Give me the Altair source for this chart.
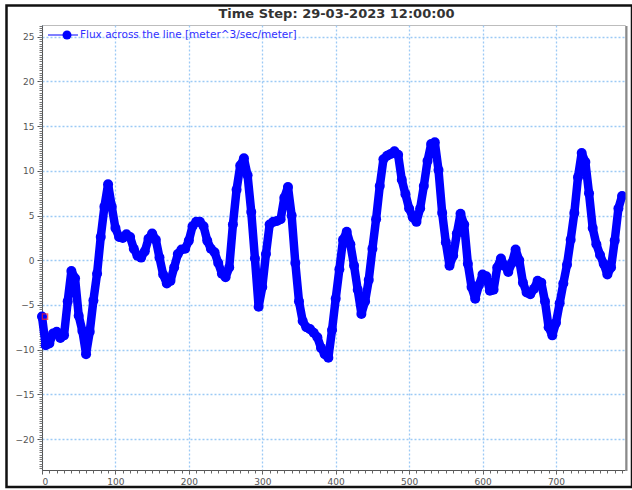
import altair as alt
import pandas as pd

# Flux across the section line, sampled every 5 m of distance along it
distance = list(range(0, 795, 5))
flux = [
    -6.3, -9.5, -9.3, -8.2, -8.0, -8.7, -8.4, -4.6, -1.2, -2.0,
    -6.2, -7.9, -10.5, -8.0, -4.5, -1.5, 2.6, 6.0, 8.5, 6.0,
    3.6, 2.6, 2.5, 2.9, 2.6, 1.3, 0.5, 0.3, 1.0, 2.4,
    3.0, 2.3, 0.3, -1.6, -2.6, -2.3, -0.8, 0.7, 1.2, 1.3,
    2.2, 3.8, 4.3, 4.3, 3.8, 2.2, 1.3, 0.9, -0.3, -1.5,
    -1.9, -0.8, 4.0, 7.9, 10.6, 11.4, 9.5, 5.4, 0.2, -5.2,
    -3.0, 0.7, 4.0, 4.3, 4.4, 4.6, 7.0, 8.2, 5.0, -0.3,
    -4.6, -6.8, -7.5, -7.7, -8.1, -8.6, -9.8, -10.5, -10.9, -7.8,
    -4.3, -1.0, 2.3, 3.2, 1.8, -0.6, -3.3, -6.0, -4.6, -2.2,
    1.3, 4.6, 8.3, 11.3, 11.7, 11.9, 12.2, 11.8, 9.0, 7.4,
    5.8, 4.8, 4.3, 5.8, 8.3, 11.1, 13.0, 13.2, 10.1, 5.3,
    2.0, -0.6, 0.5, 3.0, 5.2, 4.0, -0.4, -3.0, -4.3, -2.8,
    -1.6, -1.8, -3.4, -3.3, -0.8, 0.2, -0.6, -1.3, -0.3, 1.2,
    0.0, -2.5, -3.6, -3.8, -3.2, -2.3, -2.5, -4.6, -7.5, -8.4,
    -7.0, -4.8, -2.6, -0.5, 2.3, 5.3, 9.3, 12.0, 11.0, 7.5,
    3.6, 1.8, 0.6, -0.4, -1.6, -0.8, 2.2, 5.8, 7.2,
]

title_text = "Time Step: 29-03-2023 12:00:00"
legend_label = "Flux across the line [meter^3/sec/meter]"

x_major = [0, 100, 200, 300, 400, 500, 600, 700]
x_minor = list(range(0, 795, 10))
y_major = [-20, -15, -10, -5, 0, 5, 10, 15, 20, 25]
y_minor = [v / 4 for v in range(-93, 106)]

BLUE = "#0000ff"
GRID = "#9ccaf5"
W, H = 583, 445

df = pd.DataFrame({"distance": distance, "flux": flux})

x_scale = alt.Scale(domain=[0, 794], nice=False, zero=False)
y_scale = alt.Scale(domain=[-23.46, 26.32], nice=False, zero=False)

axis_common = dict(
    title=None,
    labelFont="DejaVu Sans",
    labelFontSize=9,
    labelColor="#555555",
    domainColor="#555555",
    tickColor="#555555",
    grid=True,
    gridColor=GRID,
    gridDash=[2, 2],
    gridWidth=1.3,
)

x_axis = alt.Axis(orient="bottom", values=x_major, tickSize=4, labelPadding=3, **axis_common)
y_axis = alt.Axis(orient="left", values=y_major, tickSize=5, labelPadding=3, **axis_common)

x_minor_axis = alt.Axis(orient="bottom", values=x_minor, labels=False, grid=False, domain=False,
                        tickSize=3, tickColor="#666666", title=None)
y_minor_axis = alt.Axis(orient="left", values=y_minor, labels=False, grid=False, domain=False,
                        tickSize=3, tickColor="#777777", title=None)

base = alt.Chart(df)

# main axes with grid
axes_layer = base.mark_point(opacity=0).encode(
    x=alt.X("distance:Q", scale=x_scale, axis=x_axis),
    y=alt.Y("flux:Q", scale=y_scale, axis=y_axis),
)

# minor ticks
minor_layer = base.mark_point(opacity=0).encode(
    x=alt.X("distance:Q", scale=x_scale, axis=x_minor_axis),
    y=alt.Y("flux:Q", scale=y_scale, axis=y_minor_axis),
)

xe = alt.X("distance:Q", scale=x_scale, axis=None)
ye = alt.Y("flux:Q", scale=y_scale, axis=None)

band = base.mark_line(color=BLUE, strokeWidth=8.5, strokeJoin="round", strokeCap="round").encode(x=xe, y=ye)
dots = base.mark_point(filled=True, color=BLUE, size=100, opacity=1, shape="circle").encode(x=xe, y=ye)
first = base.transform_filter(alt.datum.distance == 0).mark_point(
    shape="square", color="#ff2020", filled=False, size=28, strokeWidth=1.3, xOffset=3
).encode(x=xe, y=ye)

# legend entry in the upper-left corner of the plot
leg = alt.Chart(pd.DataFrame({"label": [legend_label]}))
leg_line = leg.mark_rule(color=BLUE, strokeWidth=1).encode(
    x=alt.value(6), x2=alt.value(36), y=alt.value(10)
)
leg_dot = leg.mark_point(filled=True, color=BLUE, size=80, opacity=1).encode(
    x=alt.value(25), y=alt.value(10)
)
leg_text = leg.mark_text(
    align="left", baseline="middle", font="DejaVu Sans", fontSize=10.5, color="#3030ff"
).encode(x=alt.value(38), y=alt.value(10), text="label:N")

# heading above the plot
head = alt.Chart(pd.DataFrame({"title": [title_text]})).mark_text(
    align="center", baseline="bottom", font="DejaVu Sans", fontSize=13, fontWeight="bold",
    color="#333333"
).encode(x=alt.value(W / 2 + 3), y=alt.value(-4), text="title:N")

# plot frame shadow and outer border
frame = alt.Chart(pd.DataFrame({"k": [0]}))
shadow_r = frame.mark_rule(color="#8a8a8a", strokeWidth=2).encode(
    x=alt.value(W + 1.5), y=alt.value(1), y2=alt.value(H + 1)
)
outer = frame.mark_rect(fill=None, stroke="#111111", strokeWidth=2.5).encode(
    x=alt.value(-35.5), x2=alt.value(590), y=alt.value(-19.5), y2=alt.value(462)
)

chart = (
    alt.layer(axes_layer, minor_layer, band, dots, first,
              leg_line, leg_dot, leg_text, head, shadow_r, outer)
    .resolve_axis(x="independent", y="independent")
    .properties(
        width=W,
        height=H,
        autosize=alt.AutoSizeParams(type="none"),
        padding={"left": 42, "top": 25, "right": 7, "bottom": 20},
        background="white",
    )
    .configure_view(stroke="#bdbdbd", strokeWidth=1)
)

chart.save("out.html", embed_options={"renderer": "svg", "actions": False})
